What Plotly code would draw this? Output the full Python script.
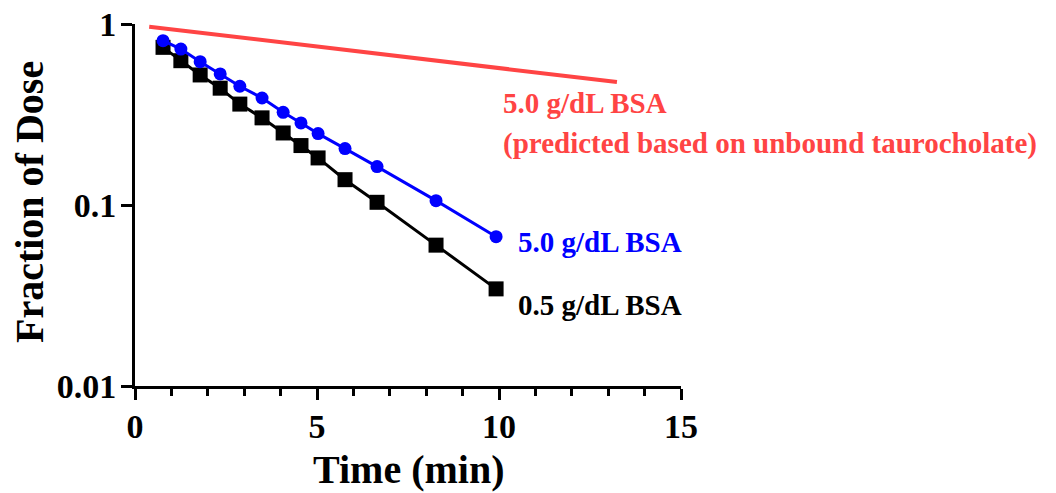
import math
import plotly.graph_objects as go

# Data
time_bsa05 = [0.77, 1.26, 1.79, 2.34, 2.88, 3.49, 4.07, 4.56, 5.03, 5.77, 6.65, 8.27, 9.92]
frac_bsa05 = [0.743, 0.627, 0.523, 0.442, 0.361, 0.303, 0.250, 0.213, 0.182, 0.138, 0.1035, 0.060, 0.0344]
time_bsa50 = [0.77, 1.26, 1.79, 2.34, 2.88, 3.49, 4.07, 4.56, 5.03, 5.77, 6.65, 8.27, 9.92]
frac_bsa50 = [0.809, 0.727, 0.619, 0.530, 0.453, 0.390, 0.325, 0.284, 0.248, 0.205, 0.163, 0.1057, 0.0668]
time_pred = [0.39, 13.24]
frac_pred = [0.966, 0.478]

y_tickvals = [0.01, 0.1, 1]
y_ticktext = ["0.01", "0.1", "1"]
x_tickvals = [0, 5, 10, 15]

RED = "#FF4444"
BLUE = "#0000FF"
BLACK = "#000000"
FONT = "Liberation Serif"

fig = go.Figure()
fig.add_trace(go.Scatter(x=time_pred, y=frac_pred, mode="lines",
                         line=dict(color=RED, width=4), showlegend=False))
fig.add_trace(go.Scatter(x=time_bsa05, y=frac_bsa05, mode="lines+markers",
                         line=dict(color=BLACK, width=3),
                         marker=dict(symbol="square", size=15, color=BLACK),
                         showlegend=False))
fig.add_trace(go.Scatter(x=time_bsa50, y=frac_bsa50, mode="lines+markers",
                         line=dict(color=BLUE, width=3),
                         marker=dict(symbol="circle", size=13, color=BLUE),
                         showlegend=False))

def ann(text, x, yval, color):
    fig.add_annotation(x=x, y=math.log10(yval), xref="x", yref="y", text=text,
                       showarrow=False, xanchor="left", yanchor="middle",
                       font=dict(family=FONT, size=29, color=color, weight="bold"))

ann("5.0 g/dL BSA", 10.05, 10 ** (-(103 - 24) / 181), RED)
ann("(predicted based on unbound taurocholate)", 10.05, 10 ** (-(143 - 24) / 181), RED)
ann("5.0 g/dL BSA", 10.47, 10 ** (-(242 - 24) / 181), BLUE)
ann("0.5 g/dL BSA", 10.47, 10 ** (-(305 - 24) / 181), BLACK)

# axis titles
title_font = dict(family=FONT, size=40, color=BLACK, weight="bold")
fig.add_annotation(text="Time (min)", x=0.5, y=0, xref="paper", yref="paper",
                   xanchor="center", yanchor="middle", yshift=-83, borderpad=0,
                   showarrow=False, font=title_font)
fig.add_annotation(text="Fraction of Dose", x=0, y=0.5, xref="paper", yref="paper",
                   xanchor="center", yanchor="middle", xshift=-106, yshift=3,
                   textangle=-90, showarrow=False, font=title_font)

fig.update_xaxes(range=[0, 15], tickvals=x_tickvals, ticks="outside", ticklen=11,
                 tickwidth=3, tickcolor=BLACK, showline=True, linewidth=3,
                 linecolor=BLACK, showgrid=False, zeroline=False, automargin=False,
                 ticklabelstandoff=-3, ticklabeloverflow="allow",
                 minor=dict(dtick=1, ticks="outside", ticklen=7, tickwidth=3, tickcolor=BLACK),
                 tickfont=dict(family=FONT, size=34, color=BLACK, weight="bold"))
fig.update_yaxes(type="log", range=[-2, 0], tickvals=y_tickvals, ticktext=y_ticktext,
                 ticks="outside", ticklen=11, tickwidth=3, tickcolor=BLACK,
                 showline=True, linewidth=3, linecolor=BLACK, showgrid=False,
                 zeroline=False, automargin=False, ticklabelstandoff=-2,
                 ticklabeloverflow="allow",
                 tickfont=dict(family=FONT, size=34, color=BLACK, weight="bold"))

fig.update_layout(width=1056, height=493, plot_bgcolor="white", paper_bgcolor="white",
                  margin=dict(l=135, r=375, t=24, b=107))

# remove the default 8px page margin so the figure fills the window exactly
fig.write_html("out.html", config={"displayModeBar": False},
               post_script="document.body.style.margin='0';")
